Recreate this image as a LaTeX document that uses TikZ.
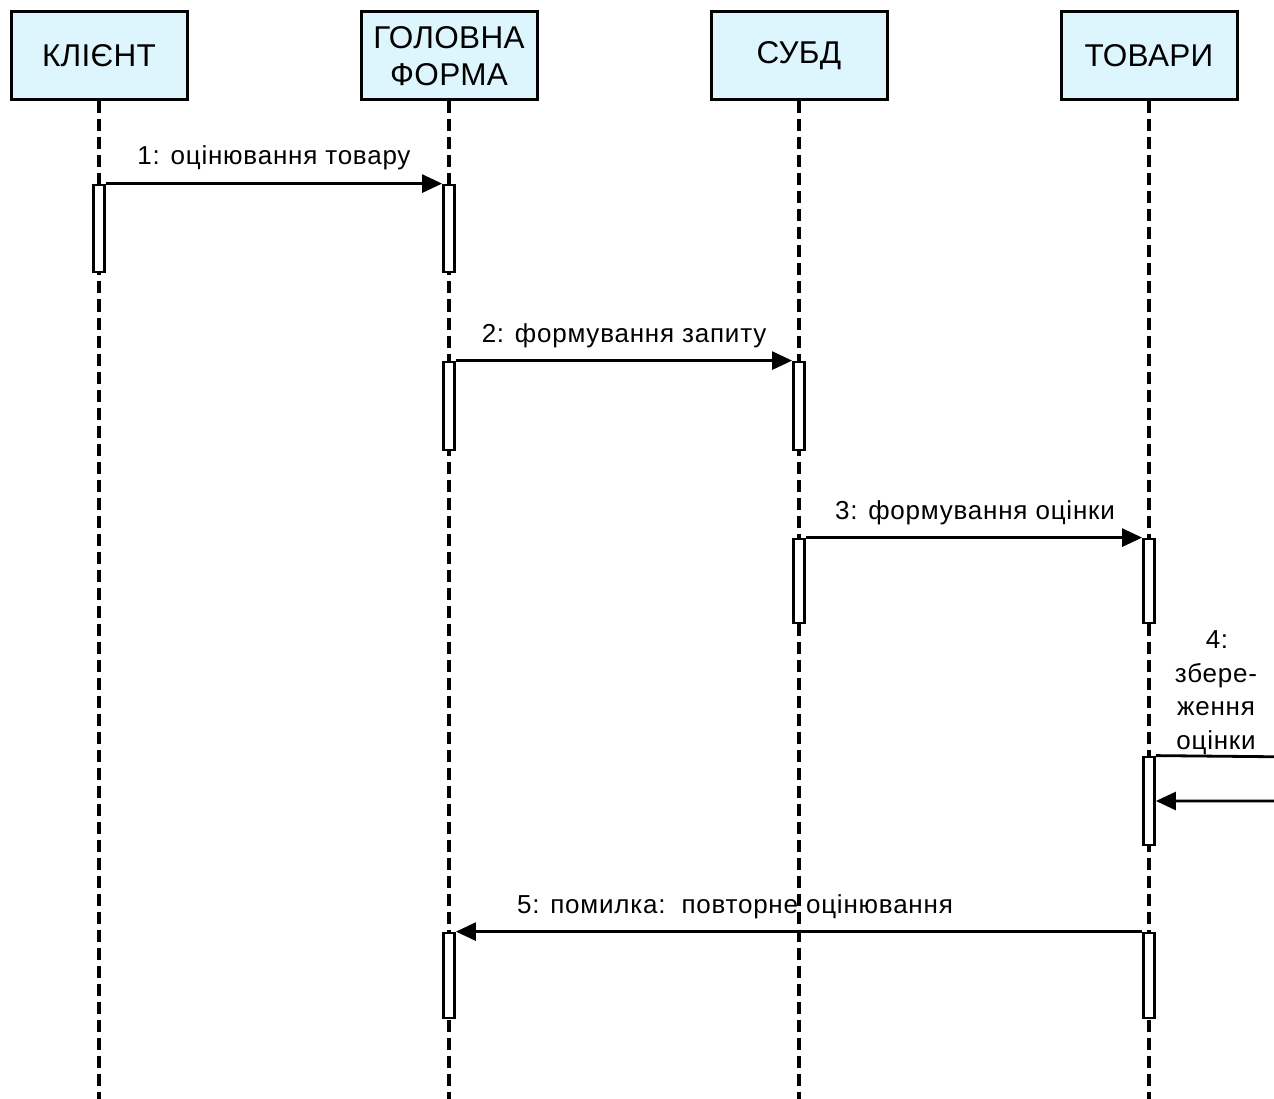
\documentclass[tikz,border=0pt]{standalone}
\usepackage{fontspec}
\setmainfont{Liberation Sans}
\newfontfamily\msgfont[LetterSpace=3]{Liberation Sans}
\newfontfamily\headfont[LetterSpace=1]{Liberation Sans}
\usetikzlibrary{arrows.meta}
\definecolor{headfill}{RGB}{221,245,253}
\begin{document}
\begin{tikzpicture}[x=1pt,y=-1pt,
  head/.style={draw=black, line width=3pt, fill=headfill, minimum width=176pt, minimum height=88pt,
    inner sep=0pt, align=center, font=\headfont\fontsize{31.5}{37}\selectfont},
  life/.style={line width=3.3pt, dash pattern=on 12pt off 6pt},
  act/.style={draw=black, line width=2.8pt, fill=white, minimum width=11pt, inner sep=0pt},
  msg/.style={line width=2.8pt, -{Triangle[length=20pt,width=18pt]}},
  lbl/.style={anchor=base, inner sep=0pt, font=\msgfont\fontsize{26}{33}\selectfont},
]
\useasboundingbox (0,0) rectangle (1274,1099);
\clip (0,0) rectangle (1274,1099);

% lifeline heads
\node[head] (kl) at (99,56)  {КЛІЄНТ};
\node[head] (hf) at (449,56) {ГОЛОВНА\\ФОРМА};
\node[head] (db) at (799,56) {СУБД};
\node[head] (tv) at (1149,56) {ТОВАРИ};

% dashed lifelines
\foreach \n in {kl,hf,db,tv}
  \draw[life] (\n.south) -- ++(0,1010);

% activation bars
\node[act, minimum height=87pt] (a1) at (99,228.5)  {};
\node[act, minimum height=87pt] (a2) at (449,228.5) {};
\node[act, minimum height=88pt] (a3) at (449,406)   {};
\node[act, minimum height=88pt] (a4) at (799,406)   {};
\node[act, minimum height=84pt] (a5) at (799,581)   {};
\node[act, minimum height=84pt] (a6) at (1149,581)  {};
\node[act, minimum height=88pt] (a7) at (1149,801)  {};
\node[act, minimum height=85pt] (a8) at (449,975.5) {};
\node[act, minimum height=85pt] (a9) at (1149,975.5){};

% messages
\draw[msg] (a1.north east) -- (a2.north west);
\node[lbl] (m1) at (274,165) {1: оцінювання товару};

\draw[msg] (a3.north east) -- (a4.north west);
\node[lbl] (m2) at (624,342) {2: формування запиту};

\draw[msg] (a5.north east) -- (a6.north west);
\node[lbl] (m3) at (975,519) {3: формування оцінки};

\coordinate (loop) at (1300,757);
\draw[msg] (a7.north east) -- (loop) |- (a7.east);
\node[lbl] (m4) at (1217,648) {4:};
\node[lbl] (m4b) at (1216,682) {збере-};
\node[lbl] (m4c) at (1216,715) {ження};
\node[lbl] (m4d) at (1216,749) {оцінки};

\draw[msg] (a9.north west) -- (a8.north east);
\node[lbl] (m5) at (735,913) {5: помилка:\ \ повторне оцінювання};
\end{tikzpicture}
\end{document}
